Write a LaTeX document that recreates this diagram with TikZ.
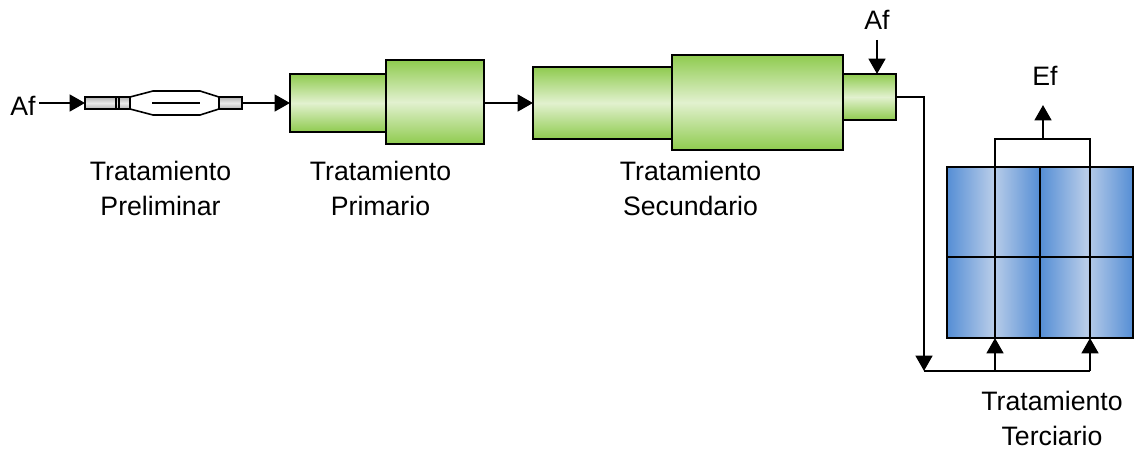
\documentclass[tikz,border=0pt]{standalone}
\usepackage{fontspec}
\setmainfont{Liberation Sans}
\usepackage{xcolor}
\usetikzlibrary{arrows.meta, positioning, calc}
\definecolor{leafgreen}{HTML}{8FCB4F}
\definecolor{palegreen}{HTML}{E2F1CF}
\definecolor{steelblue}{HTML}{558ED5}
\definecolor{paleblue}{HTML}{B9CDE9}
\tikzset{
  greenbox/.style={draw=black, line width=1.5pt, inner sep=0pt, outer sep=0pt, anchor=north west,
    top color=leafgreen, bottom color=leafgreen, middle color=palegreen},
  bluebox/.style={draw=black, line width=1.5pt, inner sep=0pt, outer sep=0pt, anchor=north west,
    left color=steelblue, right color=steelblue, middle color=paleblue},
  graybox/.style={draw=black, line width=1.2pt, inner sep=0pt, outer sep=0pt, anchor=north west,
    top color=black!30, bottom color=black!30, middle color=black!8},
  pipe/.style={draw=black, line width=1.5pt},
  flow/.style={draw=black, line width=1.9pt, -{Triangle[length=11.5pt, width=12.5pt]}},
  caption/.style={align=center, font=\fontsize{20}{26.2}\selectfont},
  tag/.style={font=\fontsize{20}{24}\selectfont, inner sep=0pt}
}
\begin{document}
\begin{tikzpicture}[x=0.75pt, y=-0.75pt]
    \useasboundingbox (0, 0) rectangle (1134, 449);

    % Preliminar
    \node[tag] (afin) at (23, 106) {Af};
    \node[graybox, minimum width=33.75pt, minimum height=9pt] (tubea) at (85, 97) {};
    \node[graybox, minimum width=17.25pt, minimum height=9pt] (tubeb) at (219, 97) {};
    \draw[pipe, line width=1.2pt] (tubea.north east) -- (153, 91) -- (200, 91) -- (tubeb.north west);
    \draw[pipe, line width=1.2pt] (tubea.south east) -- (153, 115) -- (200, 115) -- (tubeb.south west);
    \draw[pipe, line width=1.2pt] (152, 103) -- (200, 103);
    \draw[pipe, line width=1.2pt] (116, 97) -- (116, 109);
    \draw[pipe, line width=1.2pt] (119, 97) -- (119, 109);

    % Primario
    \node[greenbox, minimum width=72pt, minimum height=43.5pt] (prima) at (290, 74) {};
    \node[greenbox, minimum width=73.5pt, minimum height=63pt] (primb) at (386, 60) {};

    % Secundario
    \node[greenbox, minimum width=104.25pt, minimum height=54pt] (seca) at (533, 67) {};
    \node[greenbox, minimum width=128.25pt, minimum height=71.25pt] (secb) at (672, 55) {};
    \node[greenbox, minimum width=39.75pt, minimum height=34.5pt] (secc) at (843, 74) {};
    \node[tag] (aftop) at (877, 20) {Af};

    % Terciario
    \node[bluebox, minimum width=69.75pt, minimum height=128.25pt] (tera) at (947, 167) {};
    \node[bluebox, minimum width=69.75pt, minimum height=128.25pt] (terb) at (1040, 167) {};
    \draw[pipe] (947, 257) -- (1133, 257);
    \node[tag] (efout) at (1045, 76) {Ef};
    \coordinate (turn) at (924, 371);
    \coordinate (riserl) at (995, 371);
    \coordinate (riserr) at (1090, 371);
    \coordinate (collect) at (1043, 139);

    % Flujo
    \draw[flow] (39, 103) -- (tubea.west);
    \draw[flow] (tubeb.east) -- (prima.west);
    \draw[flow] (484, 103) -- (seca.west);
    \draw[flow] (877, 40) -- (877, 74);
    \draw[pipe] (secc.east) -- (924, 97) -- (924, 340);
    \draw[flow] (924, 340) -- (turn);
    \draw[pipe] (turn) -- (riserr);
    \draw[flow] (riserl) -- (995, 338);
    \draw[flow] (riserr) -- (1090, 338);
    \draw[pipe] (995, 338) -- (995, 139) -- (1090, 139) -- (1090, 338);
    \draw[flow] (collect) -- (1043, 105);

    % Textos
    \node[caption] (capa) at (160.5, 188.5) {Tratamiento\\Preliminar};
    \node[caption] (capb) at (380.5, 188.5) {Tratamiento\\Primario};
    \node[caption] (capc) at (690.5, 188.5) {Tratamiento\\Secundario};
    \node[caption] (capd) at (1052, 418.5) {Tratamiento\\Terciario};
  \end{tikzpicture}
\end{document}
